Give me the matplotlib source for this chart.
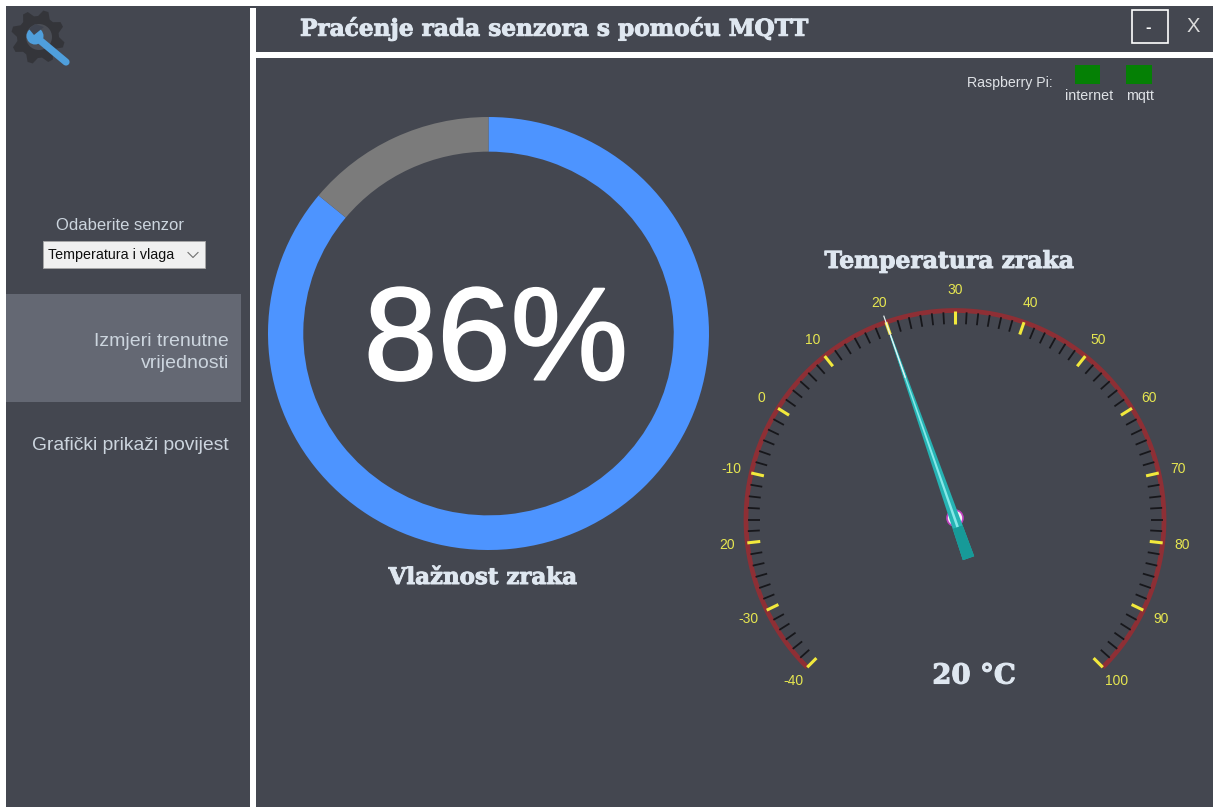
import numpy as np
import matplotlib
matplotlib.use("Agg")
import matplotlib.pyplot as plt
import matplotlib.patheffects as pe
from matplotlib.patches import Rectangle, Circle, Polygon
from matplotlib.collections import LineCollection

# ---- data ----
humidity_parts = [86, 14]
humidity_label = ["86%"]
temperature = [20]
gauge_major = [-40, -30, -20, -10, 0, 10, 20, 30, 40, 50, 60, 70, 80, 90, 100]
gauge_labels = ["-40", "-30", "20", "-10", "0", "10", "20", "30", "40", "50", "60", "70", "80", "90", "100"]
minor_per_major = [6]
title_text = ["Praćenje rada senzora s pomoću MQTT"]
nav_items = ["Izmjeri trenutne", "vrijednosti", "Grafički prikaži povijest"]
status_items = ["internet", "mqtt"]

# ---- style ----
BG = "#444750"
HL = "#646873"
LIGHT = "#dfe7f0"
NAV = "#ccd5de"
SANS = "Liberation Sans"
SERIF = "DejaVu Serif"

fig = plt.figure(figsize=(12.13, 8.07), dpi=100, facecolor="white")
ax = fig.add_axes([0, 0, 1, 1])
ax.set_xlim(0, 1213)
ax.set_ylim(807, 0)
ax.axis("off")


def rect(x0, y0, x1, y1, fc, ec="none", lw=0, z=1):
    ax.add_patch(Rectangle((x0, y0), x1 - x0, y1 - y0, facecolor=fc, edgecolor=ec, linewidth=lw, zorder=z))


def txt(x, y, s, size, color, ha="center", family=SANS, weight="normal", z=6, fat=0):
    t = ax.text(x, y, s, fontsize=size, color=color, ha=ha, va="center", family=family, weight=weight, zorder=z)
    if fat:
        t.set_path_effects([pe.withStroke(linewidth=fat, foreground=color)])
    return t


# panels
rect(6, 6, 1213, 807, BG)
rect(250, 8, 256, 807, "white", z=2)
rect(256, 52, 1213, 58, "white", z=2)
rect(6, 294, 241, 402, HL, z=2)

# header
txt(300, 29, title_text[0], 16.7, LIGHT, ha="left", family=SERIF, weight="bold", fat=0.7)
rect(1132, 9.5, 1168, 43, "none", ec="white", lw=1.2, z=3)
txt(1148.5, 27.5, "-", 12, "white", weight="bold")
txt(1193, 26, "X", 14.5, "#dcdcdc")

# status
txt(967, 83, "Raspberry Pi:", 10.2, "#dfe2e6", ha="left")
rect(1075, 65, 1100, 84, "#058005", z=3)
rect(1126, 65, 1152, 84, "#058005", z=3)
txt(1089, 96, status_items[0], 10.3, "#dfe2e6")
txt(1140, 96, status_items[1], 10.3, "#dfe2e6")

# sidebar
txt(120.5, 225, "Odaberite senzor", 12, NAV)
rect(43, 241, 205, 268, "#f0f0f0", ec="#a8a8a8", lw=0.6, z=3)
txt(48, 255, "Temperatura i vlaga", 10.3, "#101010", ha="left")
ax.plot([188, 193, 198], [252.5, 257.5, 252.5], color="#707070", lw=0.8, zorder=6)
txt(229, 341, nav_items[0], 14, NAV, ha="right")
txt(229, 363, nav_items[1], 14, NAV, ha="right")
txt(229, 446, nav_items[2], 13.9, NAV, ha="right")

# gear + wrench icon
gx, gy = 38, 37
teeth = 8
ang = np.linspace(0, 2 * np.pi, teeth * 4, endpoint=False) + 0.2
rad = np.tile([27, 27, 21, 21], teeth)
ax.add_patch(Polygon(np.c_[gx + rad * np.cos(ang), gy + rad * np.sin(ang)], closed=True, fc="#34353a", ec="none", zorder=3))
ax.add_patch(Circle((gx + 1, gy), 13, fc="#4a4d55", ec="none", zorder=3))
ax.plot([36, 66], [37, 62], color="#4f9fdc", lw=5.2, solid_capstyle="round", zorder=4)
ax.add_patch(Circle((35, 36), 8.5, fc="#4f9fdc", ec="none", zorder=4))
ax.add_patch(Polygon([[34, 35], [44, 27], [35, 24], [29, 29]], closed=True, fc="#3f4450", ec="none", zorder=4))

# humidity ring
ring_ax = fig.add_axes([268 / 1213, 1 - 550 / 807, 441 / 1213, 433 / 807])
ring_ax.pie(humidity_parts, colors=["#4d94ff", "#7b7b7b"], startangle=90, counterclock=False,
            radius=1.0, wedgeprops=dict(width=0.16, linewidth=0), normalize=True)
ring_ax.set_xlim(-1, 1)
ring_ax.set_ylim(-1, 1)
ring_ax.set_aspect("auto")
ring_ax.patch.set_alpha(0)
ring_ax.axis("off")
txt(496, 345, humidity_label[0], 95, "white", fat=1.5)
txt(482.5, 578, "Vlažnost zraka", 16.5, LIGHT, family=SERIF, weight="bold", fat=0.7)

# gauge
cx, cy, R = 955, 519.5, 209
vmin, vmax = gauge_major[0], gauge_major[-1]


def val_to_theta(v):
    """clockwise angle from top, radians; the scale spans 270 degrees"""
    return np.radians(-135 + 270 * (np.asarray(v, dtype=float) - vmin) / (vmax - vmin))


def polar(theta, r):
    return cx + r * np.sin(theta), cy - r * np.cos(theta)


th = np.linspace(val_to_theta(vmin), val_to_theta(vmax), 300)
ax.plot(*polar(th, R), color="#8e2f35", lw=3.4, zorder=3, solid_capstyle="butt")

n = minor_per_major[0]
minor_vals = [a + (b - a) * k / n for a, b in zip(gauge_major[:-1], gauge_major[1:]) for k in range(1, n)]
minor_segs = [[polar(val_to_theta(v), 207.5), polar(val_to_theta(v), 195.5)] for v in minor_vals]
major_segs = [[polar(val_to_theta(v), 209), polar(val_to_theta(v), 196)] for v in gauge_major]
ax.add_collection(LineCollection(minor_segs, colors="#17171b", linewidths=1.3, zorder=4))
ax.add_collection(LineCollection(major_segs, colors="#f2e93c", linewidths=2.2, zorder=4))
for v, s in zip(gauge_major, gauge_labels):
    x, y = polar(val_to_theta(v), 229)
    txt(x, y, s, 10, "#e6e650")

txt(949, 262, "Temperatura zraka", 16.9, LIGHT, family=SERIF, weight="bold", fat=0.7)
txt(974, 676, f"{temperature[0]} °C", 19.8, LIGHT, family=SERIF, weight="bold", fat=0.8)

# needle
t = val_to_theta(temperature[0])
nx, ny = np.cos(t), np.sin(t)  # perpendicular direction
ax.add_patch(Circle((cx, cy - 1.5), 8, fc="#f4eef6", ec="#c040c0", lw=1.2, zorder=7))


def sliver(r0, w0, r1, w1, color, z):
    x0, y0 = polar(t, r0)
    x1, y1 = polar(t, r1)
    pts = [[x0 - nx * w0 / 2, y0 - ny * w0 / 2], [x0 + nx * w0 / 2, y0 + ny * w0 / 2],
           [x1 + nx * w1 / 2, y1 + ny * w1 / 2], [x1 - nx * w1 / 2, y1 - ny * w1 / 2]]
    ax.add_patch(Polygon(pts, closed=True, fc=color, ec="none", zorder=z))


sliver(-41, 12, 195, 2.0, "#26b3b3", 8)
sliver(-41, 12, -8, 10.5, "#179a98", 8.5)
sliver(-8, 2.6, 195, 1.0, "#86e8e8", 9)
sliver(150, 1.3, 216, 1.2, "#e9f2f4", 9)

fig.savefig("out.png", dpi=100, facecolor="white")
